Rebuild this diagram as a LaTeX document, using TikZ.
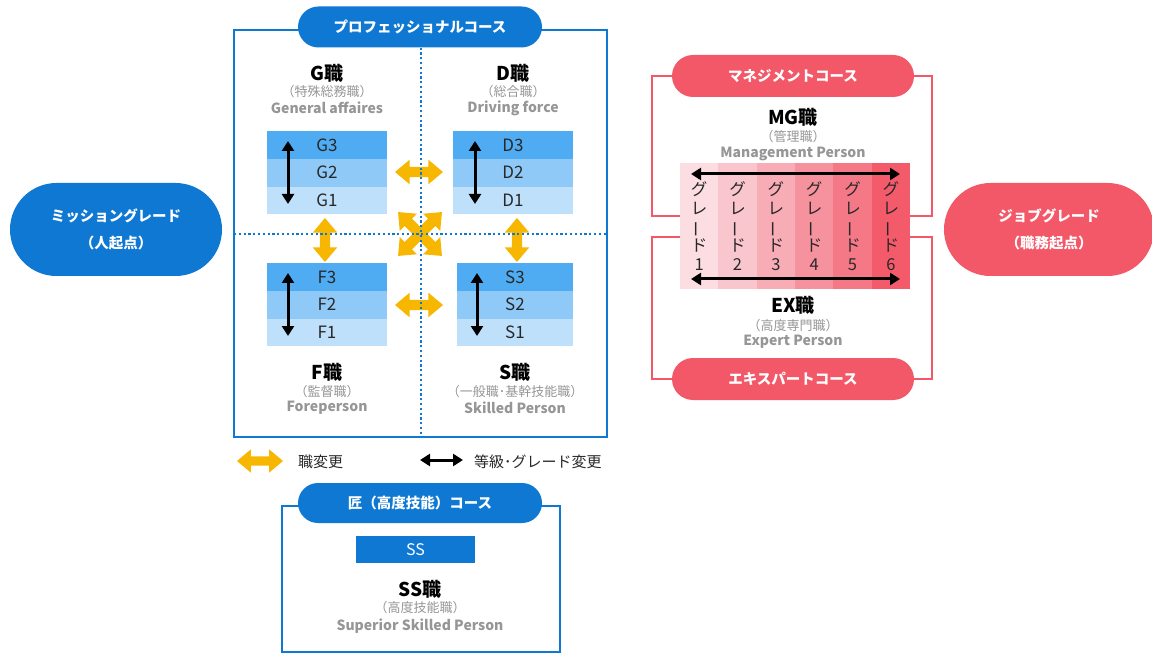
\documentclass[tikz,border=0pt]{standalone}
\usepackage{fontspec}
\setmainfont{Noto Sans CJK JP}
\usetikzlibrary{shapes.misc,shapes.arrows,arrows.meta,calc}
\definecolor{mblue}{RGB}{14,120,210}
\definecolor{mred}{RGB}{243,88,104}
\definecolor{myel}{RGB}{247,182,0}
\definecolor{gtxt}{RGB}{150,150,150}
\definecolor{dtxt}{RGB}{40,40,40}
\definecolor{bthree}{RGB}{80,172,242}
\definecolor{btwo}{RGB}{143,201,247}
\definecolor{bone}{RGB}{190,224,251}
\definecolor{rone}{RGB}{252,222,226}
\definecolor{rtwo}{RGB}{250,198,205}
\definecolor{rthree}{RGB}{248,172,182}
\definecolor{rfour}{RGB}{246,146,158}
\definecolor{rfive}{RGB}{245,120,134}
\definecolor{rsix}{RGB}{243,90,106}
\newcommand{\fs}[2]{\fontsize{#1}{#2}\selectfont}
\begin{document}
\begin{tikzpicture}[x=1pt,y=-1pt,
  pill/.style={rounded rectangle, fill=mblue, text=white, font=\fs{14.5}{27.5}\bfseries, inner sep=0pt, align=center},
  rpill/.style={pill, fill=mred},
  ttl/.style={font=\fs{19}{21}\bfseries, text=black, inner sep=0pt},
  sub/.style={font=\fs{13}{15}, text=gtxt, inner sep=0pt},
  eng/.style={font=\fs{14}{16}\bfseries, text=gtxt, inner sep=0pt},
  row/.style={minimum width=120pt, minimum height=27.7pt, inner sep=0pt, font=\fs{17}{19}, text=dtxt},
  yarr/.style={double arrow, fill=myel, inner sep=0pt, inner ysep=5pt, double arrow head extend=7pt, double arrow tip angle=80},
  barr/.style={line width=3pt, black, {Triangle[length=10pt,width=12pt]}-{Triangle[length=10pt,width=12pt]}},
  frame/.style={line width=2pt},
  dotl/.style={mblue, line width=2.2pt, dash pattern=on 2.2pt off 2.6pt},
  gcol/.style={minimum width=38.33pt, minimum height=126pt, inner sep=0pt},
  gtxtv/.style={font=\fs{16.5}{18.6}, text=dtxt, align=center, inner sep=0pt}
]
\useasboundingbox (0,0) rectangle (1152,655);

% left and right pills
\node[pill, minimum width=212pt, minimum height=93pt] (mission) at (116,229.5) {ミッショングレード\\（人起点）};
\node[rpill, minimum width=210pt, minimum height=93pt] (job) at (1049,229.5) {ジョブグレード\\（職務起点）};

% professional course frame
\draw[mblue, frame] (234,30) rectangle (607,437);
\node[pill, minimum width=244pt, minimum height=41pt] (prof) at (420,27) {プロフェッショナルコース};

% yellow arrows
\node[yarr, minimum height=48pt] (ygd) at (419,172) {};
\node[yarr, minimum height=48pt] (yfs) at (419,305) {};
\node[yarr, minimum height=44pt, rotate=90] (ygf) at (325,240) {};
\node[yarr, minimum height=44pt, rotate=90] (yds) at (517,240) {};
\node[yarr, minimum height=62pt, rotate=45] (yx1) at (420,234) {};
\node[yarr, minimum height=62pt, rotate=-45] (yx2) at (420,234) {};

% dotted lines
\coordinate (vb) at (421,437);
\coordinate (hl) at (234,234);
\coordinate (hr) at (607,234);
\draw[dotl] (prof.south -| vb) -- (vb);
\draw[dotl] (hl) -- (hr);

% G block
\node[row, fill=bthree] (G3) at (327,145) {G3};
\node[row, fill=btwo] (G2) at (327,172.7) {G2};
\node[row, fill=bone] (G1) at (327,200.4) {G1};
\coordinate (ga) at (288,141); \coordinate (gb) at (288,204);
\draw[barr] (ga) -- (gb);
\node[ttl] (Gt) at (327,73) {G職};
\node[sub] (Gs) at (327,92) {（特殊総務職）};
\node[eng] (Ge) at (327,108) {General affaires};

% D block
\node[row, fill=bthree] (D3) at (513,145) {D3};
\node[row, fill=btwo] (D2) at (513,172.7) {D2};
\node[row, fill=bone] (D1) at (513,200.4) {D1};
\coordinate (da) at (475,141); \coordinate (db) at (475,204);
\draw[barr] (da) -- (db);
\node[ttl] (Dt) at (513,73) {D職};
\node[sub] (Ds) at (513,92) {（総合職）};
\node[eng] (De) at (513,108) {Driving force};

% F block
\node[row, fill=bthree] (F3) at (327,277) {F3};
\node[row, fill=btwo] (F2) at (327,304.7) {F2};
\node[row, fill=bone] (F1) at (327,332.4) {F1};
\coordinate (fa) at (288,273); \coordinate (fb) at (288,336);
\draw[barr] (fa) -- (fb);
\node[ttl] (Ft) at (327,372) {F職};
\node[sub] (Fs) at (327,392) {（監督職）};
\node[eng] (Fe) at (327,408) {Foreperson};

% S block
\node[row, fill=bthree, minimum width=116pt] (S3) at (515,277) {S3};
\node[row, fill=btwo, minimum width=116pt] (S2) at (515,304.7) {S2};
\node[row, fill=bone, minimum width=116pt] (S1) at (515,332.4) {S1};
\coordinate (sa) at (477,273); \coordinate (sb) at (477,336);
\draw[barr] (sa) -- (sb);
\node[ttl] (St) at (515,372) {S職};
\node[sub] (Ss) at (515,392) {（一般職･基幹技能職）};
\node[eng] (Se) at (515,408) {Skilled Person};

% legend
\node[yarr, minimum height=46pt, inner ysep=4.5pt, double arrow head extend=7pt] (ly) at (260,461) {};
\node[font=\fs{15}{17}, text=dtxt, anchor=west, inner sep=0pt] (lyt) at (298,462) {職変更};
\coordinate (lba) at (420,460); \coordinate (lbb) at (463,460);
\draw[barr] (lba) -- (lbb);
\node[font=\fs{15}{17}, text=dtxt, anchor=west, inner sep=0pt] (lbt) at (474,462) {等級･グレード変更};

% SS course
\draw[mblue, frame] (282,506) rectangle (560,652);
\node[pill, minimum width=244pt, minimum height=40pt] (takumi) at (420,503) {匠（高度技能）コース};
\node[fill=mblue, text=white, minimum width=119pt, minimum height=27pt, inner sep=0pt, font=\fs{16}{18}] (SS) at (415.5,549.5) {SS};
\node[ttl] (SSt) at (420,589) {SS職};
\node[sub] (SSs) at (420,608) {（高度技能職）};
\node[eng] (SSe) at (420,626) {Superior Skilled Person};

% right side: grade columns
\node[gcol, fill=rone]   (c1) at (699.17,226) {};
\node[gcol, fill=rtwo]   (c2) at (737.50,226) {};
\node[gcol, fill=rthree] (c3) at (775.83,226) {};
\node[gcol, fill=rfour]  (c4) at (814.17,226) {};
\node[gcol, fill=rfive]  (c5) at (852.50,226) {};
\node[gcol, fill=rsix]   (c6) at (890.83,226) {};
\foreach \i in {1,...,6}{
  \node[gtxtv] (t\i) at ($(c\i.center)+(0,0)$) {グ\\レ\\\rotatebox[origin=c]{90}{ー}\\ド\\\i};
}
\coordinate (ta) at (691,174); \coordinate (tb) at (900,174);
\coordinate (ba) at (691,279); \coordinate (bb) at (900,279);
\draw[barr] (ta) -- (tb);
\draw[barr] (ba) -- (bb);

% management / expert pills and brackets
\node[rpill, minimum width=242pt, minimum height=42pt] (mg) at (793,76) {マネジメントコース};
\node[rpill, minimum width=242pt, minimum height=42pt] (ex) at (793,379) {エキスパートコース};
\coordinate (ul) at (652,216); \coordinate (ur) at (932,216);
\coordinate (ll) at (652,237); \coordinate (lr) at (932,237);
\draw[mred, frame] (mg.west) -| (ul) -- (ul -| c1.west);
\draw[mred, frame] (mg.east) -| (ur) -- (ur -| c6.east);
\draw[mred, frame] (ex.west) -| (ll) -- (ll -| c1.west);
\draw[mred, frame] (ex.east) -| (lr) -- (lr -| c6.east);

\node[ttl] (MGt) at (793,117) {MG職};
\node[sub] (MGs) at (793,137) {（管理職）};
\node[eng] (MGe) at (793,154) {Management Person};
\node[ttl] (EXt) at (793,305) {EX職};
\node[sub] (EXs) at (793,326) {（高度専門職）};
\node[eng] (EXe) at (793,342) {Expert Person};
\end{tikzpicture}
\end{document}
